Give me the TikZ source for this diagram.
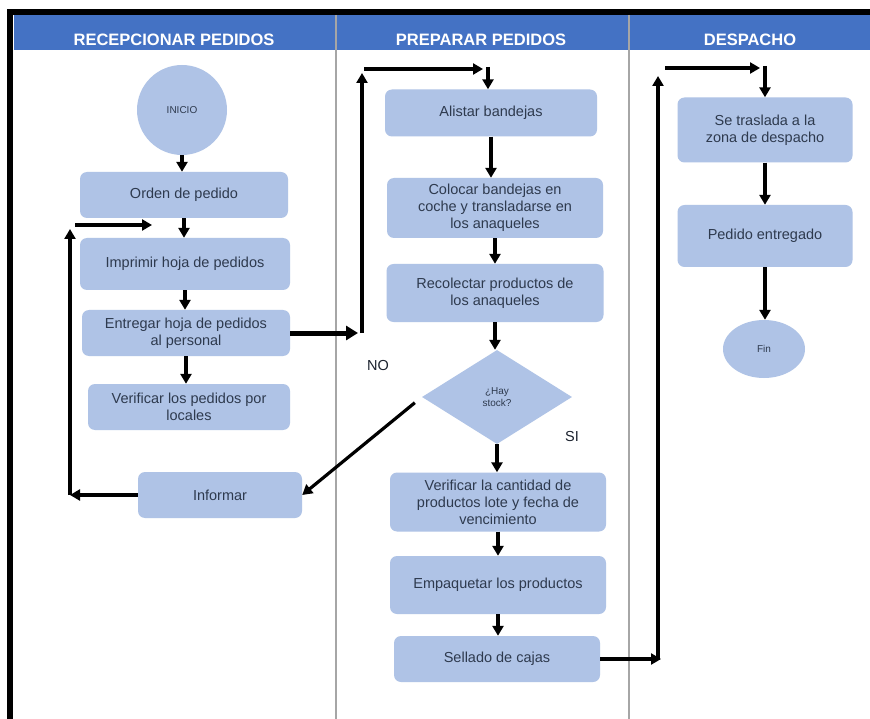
\documentclass[tikz,border=0pt]{standalone}
\usepackage{fontspec}
\setmainfont{Liberation Sans}
\usetikzlibrary{shapes.geometric,arrows.meta}
\definecolor{hdr}{HTML}{4472C4}
\definecolor{boxb}{HTML}{AFC3E6}
\definecolor{txt}{HTML}{2E3A4E}
\definecolor{lanec}{HTML}{A6A6A6}
\begin{document}
\begin{tikzpicture}[x=1pt,y=-1pt,
  proc/.style={fill=boxb, rounded corners=7pt, align=center, text=txt,
    font=\fontsize{14.5}{17}\selectfont, inner sep=2pt},
  arr/.style={line width=3.2pt, -{Triangle[length=10pt,width=11pt]}},
  bigarr/.style={line width=5pt, -{Triangle[length=12pt,width=14pt]}},
  hdrtxt/.style={text=white, font=\bfseries\fontsize{16.5}{18}\selectfont},
  lbl/.style={text=txt!60!black, font=\fontsize{14.5}{16}\selectfont}]
\useasboundingbox (0,0) rectangle (870,719);
\fill[white] (0,0) rectangle (870,719);
% frame and header
\fill[hdr] (14,15) rectangle (870,50);
\fill[black] (7,9) rectangle (870,15);
\fill[black] (7,9) rectangle (13,719);
\draw[lanec, line width=1.2pt] (336,15) -- (336,719);
\draw[lanec, line width=1.2pt] (629,15) -- (629,719);
\node[hdrtxt] (h1) at (174,40) {RECEPCIONAR PEDIDOS};
\node[hdrtxt] (h2) at (481,40) {PREPARAR PEDIDOS};
\node[hdrtxt] (h3) at (750,40) {DESPACHO};

% lane 1
\node[circle, fill=boxb, minimum size=90pt, inner sep=0pt, text=txt,
  font=\fontsize{10}{12}\selectfont] (inicio) at (182,110) {INICIO};
\node[proc, minimum width=208pt, minimum height=46pt] (orden) at (184,195) {Orden de pedido};
\node[proc, minimum width=210pt, minimum height=52pt] (imprimir) at (185,264) {Imprimir hoja de pedidos};
\node[proc, minimum width=208pt, minimum height=46pt] (entregar) at (186,333) {Entregar hoja de pedidos\\al personal};
\node[proc, minimum width=202pt, minimum height=46pt] (verif1) at (189,407) {Verificar los pedidos por\\locales};
\node[proc, minimum width=164pt, minimum height=46pt] (informar) at (220,495) {Informar};

% lane 2
\node[proc, minimum width=212pt, minimum height=47pt] (alistar) at (491,113) {Alistar bandejas};
\node[proc, minimum width=216pt, minimum height=60pt] (colocar) at (495,208) {Colocar bandejas en\\coche y transladarse en\\los anaqueles};
\node[proc, minimum width=217pt, minimum height=58pt] (recolectar) at (495,293) {Recolectar productos de\\los anaqueles};
\node[diamond, fill=boxb, minimum width=150pt, minimum height=94pt, inner sep=0pt,
  align=center, text=txt, font=\fontsize{10}{11.5}\selectfont] (stock) at (497,397) {¿Hay\\stock?};
\node[proc, minimum width=216pt, minimum height=59pt] (verif2) at (498,502) {Verificar la cantidad de\\productos lote y fecha de\\vencimiento};
\node[proc, minimum width=216pt, minimum height=58pt] (empaq) at (498,585) {Empaquetar los productos};
\node[proc, minimum width=206pt, minimum height=46pt] (sellado) at (497,659) {Sellado de cajas};
\node[lbl] (no) at (378,366) {NO};
\node[lbl] (si) at (572,437) {SI};

% lane 3
\node[proc, minimum width=175pt, minimum height=65pt] (traslada) at (765,130) {Se traslada a la\\zona de despacho};
\node[proc, minimum width=175pt, minimum height=62pt] (entregado) at (765,236) {Pedido entregado};
\node[ellipse, fill=boxb, minimum width=82pt, minimum height=58pt, inner sep=0pt, text=txt,
  font=\fontsize{10}{12}\selectfont] (fin) at (764,349) {Fin};

% coordinates for bends
\coordinate (la) at (70,495);
\coordinate (lb) at (70,229);
\coordinate (lc) at (75,225);
\coordinate (ld) at (152,225);
\coordinate (pa) at (358,333);
\coordinate (pb) at (362,333);
\coordinate (pc) at (362,73);
\coordinate (pd) at (364,69);
\coordinate (pe) at (483,69);
\coordinate (pf) at (488,67);
\coordinate (da) at (661,659);
\coordinate (db) at (658,660);
\coordinate (dc) at (658,76);
\coordinate (dd) at (665,68);
\coordinate (de) at (760,68);
\coordinate (df) at (765,66);

% lane 1 connectors
\draw[arr] (inicio.south) -- (inicio.south |- orden.north);
\draw[arr] (orden.south) -- (orden.south |- imprimir.north);
\draw[arr] (imprimir.south) -- (imprimir.south |- entregar.north);
\draw[arr] (entregar.south) -- (entregar.south |- verif1.north);
\draw[arr] (informar.west) -- (la);
\draw[arr] (la) -- (lb);
\draw[arr] (lc) -- (ld);

% lane 2 connectors
\draw[bigarr] (entregar.east) -- (pa);
\draw[arr] (pb) -- (pc);
\draw[arr] (pd) -- (pe);
\draw[arr] (pf) -- (pf |- alistar.north);
\draw[arr] (alistar.south) -- (alistar.south |- colocar.north);
\draw[arr] (colocar.south) -- (colocar.south |- recolectar.north);
\draw[arr] (recolectar.south) -- (recolectar.south |- stock.north);
\draw[arr, shorten <=9pt] (stock.west) -- (informar.east);
\draw[arr] (stock.south) -- (stock.south |- verif2.north);
\draw[arr] (verif2.south) -- (verif2.south |- empaq.north);
\draw[arr] (empaq.south) -- (empaq.south |- sellado.north);

% lane 3 connectors
\draw[arr] (sellado.east) -- (da);
\draw[arr] (db) -- (dc);
\draw[arr] (dd) -- (de);
\draw[arr] (df) -- (df |- traslada.north);
\draw[arr] (traslada.south) -- (traslada.south |- entregado.north);
\draw[arr] (entregado.south) -- (entregado.south |- fin.north);
\end{tikzpicture}
\end{document}
